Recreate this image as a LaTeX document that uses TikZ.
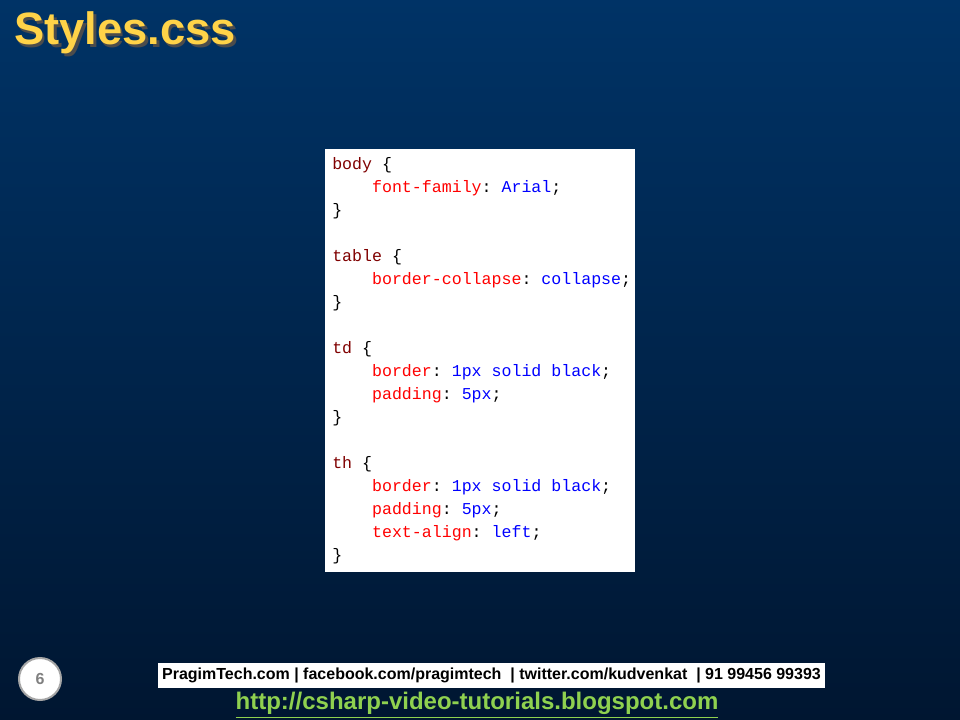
\documentclass[tikz,border=0pt]{standalone}
\usepackage{fontspec}
\setmainfont{Liberation Sans}
\setmonofont{Liberation Mono}
\definecolor{bgtop}{HTML}{003366}
\definecolor{bgbot}{HTML}{001631}
\definecolor{sel}{HTML}{800000}
\definecolor{prop}{HTML}{FF0000}
\definecolor{val}{HTML}{0000FF}
\definecolor{ttl}{HTML}{FFD348}
\definecolor{lnk}{HTML}{8FD14F}
\newcommand{\Sl}[1]{\textcolor{sel}{#1}}
\newcommand{\Pp}[1]{\textcolor{prop}{#1}}
\newcommand{\Vl}[1]{\textcolor{val}{#1}}
\begin{document}
\begin{tikzpicture}[x=0.75pt,y=-0.75pt,
  codeline/.style={anchor=west,inner sep=0,font=\ttfamily\fontsize{12.45}{15}\selectfont}]
\useasboundingbox (0,0) rectangle (960,720);
\shade[top color=bgtop,bottom color=bgbot] (0,0) rectangle (960,720);
\node[anchor=west,font=\bfseries\fontsize{34}{38}\selectfont,text=black!70,inner sep=0] at (16.5,35.5) {Styles.css};
\node (title)[anchor=west,font=\bfseries\fontsize{34}{38}\selectfont,text=ttl,inner sep=0] at (14,33) {Styles.css};
\fill[white] (325,149) rectangle (635,572);
\foreach \i/\t in {0/{\Sl{body} \{},1/{\ \ \ \ \Pp{font-family}: \Vl{Arial};},2/{\}},
 4/{\Sl{table} \{},5/{\ \ \ \ \Pp{border-collapse}: \Vl{collapse};},6/{\}},
 8/{\Sl{td} \{},9/{\ \ \ \ \Pp{border}: \Vl{1px solid black};},10/{\ \ \ \ \Pp{padding}: \Vl{5px};},11/{\}},
 13/{\Sl{th} \{},14/{\ \ \ \ \Pp{border}: \Vl{1px solid black};},15/{\ \ \ \ \Pp{padding}: \Vl{5px};},16/{\ \ \ \ \Pp{text-align}: \Vl{left};},17/{\}}}
  \node[codeline] (l\i) at (332,165+23*\i) {\t};
\node (foot)[fill=white,inner sep=0,minimum width=667*0.75pt,minimum height=25*0.75pt,font=\bfseries\fontsize{12}{13}\selectfont] at (491.5,675.5) {PragimTech.com | facebook.com/pragimtech\ \ | twitter.com/kudvenkat\ \ | 91 99456 99393};
\node (link)[font=\bfseries\fontsize{18}{20}\selectfont,text=lnk,inner sep=0] at (477,705) {\underline{http://csharp-video-tutorials.blogspot.com}};
\node (pg)[circle,fill=white,draw=gray!70,line width=1.5pt,minimum size=42*0.75pt,font=\bfseries\fontsize{12}{14}\selectfont,text=gray] at (40,679) {6};
\end{tikzpicture}
\end{document}
